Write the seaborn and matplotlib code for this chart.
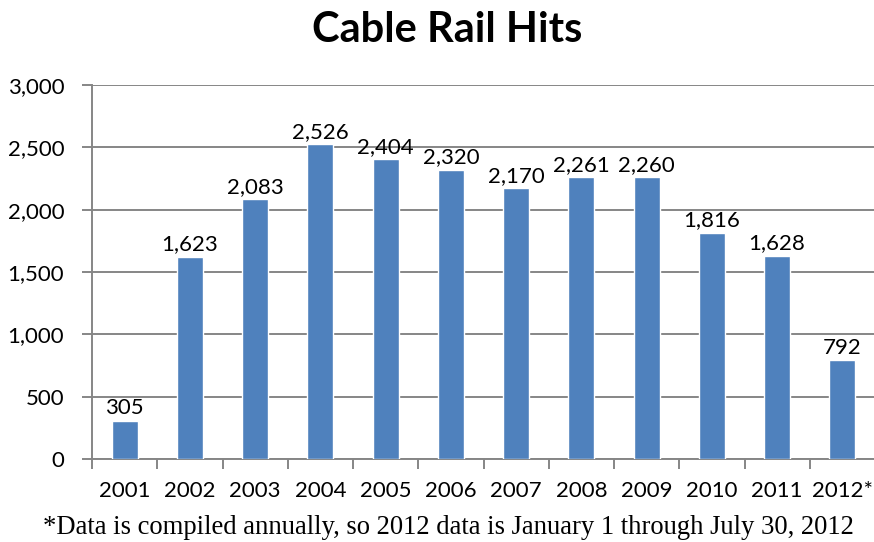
import matplotlib
matplotlib.use("Agg")
import matplotlib.pyplot as plt
import seaborn as sns
import pandas as pd
import numpy as np

years = ["2001", "2002", "2003", "2004", "2005", "2006", "2007",
         "2008", "2009", "2010", "2011", "2012*"]
hits = [305, 1623, 2083, 2526, 2404, 2320, 2170, 2261, 2260, 1816, 1628, 792]
y_ticks = [0, 500, 1000, 1500, 2000, 2500, 3000]

title_text = "Cable Rail Hits"
footnote = "*Data is compiled annually, so 2012 data is January 1 through July 30, 2012"

sns.set_theme(style="white")
plt.rcParams["font.family"] = ["Lato", "DejaVu Sans"]
plt.rcParams["text.color"] = "black"
plt.rcParams["xtick.labelcolor"] = "black"
plt.rcParams["ytick.labelcolor"] = "black"

df = pd.DataFrame({"year": years, "hits": hits})

fig = plt.figure(figsize=(8.74, 5.42), dpi=100)
ax = fig.add_axes([92 / 874, 83 / 542, 783 / 874, 374 / 542])

grid_color = "#868686"
sns.barplot(data=df, x="year", y="hits", color="#4F81BD", saturation=1,
            width=0.4, ax=ax, zorder=3)

ax.set_ylim(0, 3000)
ax.set_xlim(-0.5, len(years) - 0.5)
ax.set_yticks(y_ticks)
ax.set_yticklabels([f"{v:,}" for v in y_ticks], fontsize=16)
ax.yaxis.grid(True, color=grid_color, linewidth=1.4, zorder=0)
ax.set_axisbelow(True)

# category labels centred, tick marks at category boundaries
ax.set_xticks(range(len(years)))
ax.set_xticklabels(years, fontsize=16)
ax.tick_params(axis="x", which="major", length=0, pad=16)
ax.set_xticks(np.arange(-0.5, len(years) - 0.4, 1.0), minor=True)
ax.tick_params(axis="x", which="minor", length=7, width=1.4, color=grid_color,
               direction="out", bottom=True)
ax.tick_params(axis="y", length=7, width=1.4, color=grid_color, left=True,
               direction="out", pad=13)

ax.set_xlabel("")
ax.set_ylabel("")
for side in ["top", "right"]:
    ax.spines[side].set_visible(False)
for side in ["left", "bottom"]:
    ax.spines[side].set_color(grid_color)
    ax.spines[side].set_linewidth(1.4)

for i, v in enumerate(hits):
    ax.text(i, v + 20, f"{v:,}", ha="center", va="bottom", fontsize=16,
            color="black")

fig.text(0.512, 0.945, title_text, ha="center", va="center", fontsize=30,
         fontweight="bold", color="black")
fig.text(0.513, 0.027, footnote, ha="center", va="center", fontsize=19.2,
         color="black", family=["Liberation Serif", "DejaVu Serif"])

fig.savefig("out.png", dpi=100)
